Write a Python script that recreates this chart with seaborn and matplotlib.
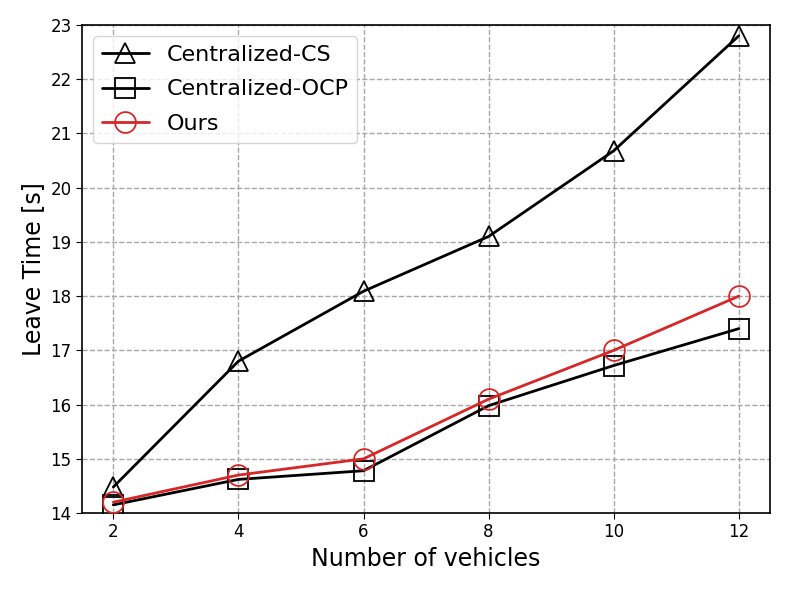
import matplotlib
matplotlib.use("Agg")
import matplotlib.pyplot as plt
import seaborn as sns
import pandas as pd

vehicles = [2, 4, 6, 8, 10, 12]
cs = [14.48, 16.8, 18.09, 19.1, 20.68, 22.8]
ocp = [14.15, 14.62, 14.78, 15.98, 16.72, 17.4]
ours = [14.2, 14.7, 15.0, 16.1, 17.0, 18.0]

series_names = ["Centralized-CS", "Centralized-OCP", "Ours"]
colors = ["black", "black", "#d62728"]
markers = ["^", "s", "o"]

df = pd.DataFrame({
    "x": vehicles * 3,
    "y": cs + ocp + ours,
    "method": sum([[n] * len(vehicles) for n in series_names], []),
})

sns.set_style("ticks")
plt.rcParams['font.family'] = ['DejaVu Sans']
plt.rcParams['text.color'] = 'black'
plt.rcParams['axes.labelcolor'] = 'black'
plt.rcParams['xtick.color'] = 'black'
plt.rcParams['ytick.color'] = 'black'

fig = plt.figure(figsize=(7.89, 5.92), dpi=100)
ax = fig.add_axes([0.104, 0.1334, 0.872, 0.8244])

for name, c, m in zip(series_names, colors, markers):
    sub = df[df["method"] == name]
    sns.lineplot(data=sub, x="x", y="y", ax=ax, color=c, marker=m, markersize=15,
                 fillstyle="none", markeredgecolor=c, markeredgewidth=1.3,
                 linewidth=2, label=name, zorder=3)

ax.set_xlim(1.5, 12.5)
ax.set_ylim(14, 23)
ax.set_xticks(vehicles)
ax.set_yticks(range(14, 24))
ax.grid(True, linestyle="--", color="#a8a8a8", linewidth=1)
ax.set_axisbelow(True)
ax.tick_params(labelsize=12, direction="out", length=4, colors="black")
for s in ax.spines.values():
    s.set_visible(True)
    s.set_color("black")
    s.set_linewidth(1.2)
ax.set_xlabel("Number of vehicles", fontsize=17)
ax.set_ylabel("Leave Time [s]", fontsize=17)
leg = ax.legend(loc="upper left", fontsize=16, frameon=True, handlelength=2.1,
                labelspacing=0.65)
leg.get_frame().set_edgecolor("#cccccc")
for t in leg.get_texts():
    t.set_color("black")

fig.savefig("out.png", dpi=100)
